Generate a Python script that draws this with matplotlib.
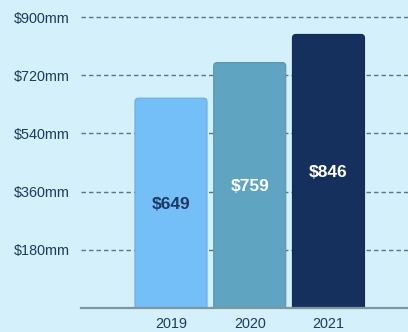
import matplotlib
matplotlib.use("Agg")
import matplotlib.pyplot as plt
from matplotlib.patches import FancyBboxPatch

years = ["2019", "2020", "2021"]
revenue = [649, 759, 846]
y_ticks = [180, 360, 540, 720, 900]
y_tick_labels = ["$180mm", "$360mm", "$540mm", "$720mm", "$900mm"]

bar_colors = ["#74bff8", "#5fa4c0", "#16305e"]
edge_colors = ["#6aaee0", "#5896b0", "#142b55"]
label_colors = ["#1f3863", "#ffffff", "#ffffff"]
bg = "#d3f0fb"
text_color = "#1f3a60"

W, H, DPI = 408, 332, 100
fig = plt.figure(figsize=(W / DPI, H / DPI), dpi=DPI, facecolor=bg)
left, right, bottom, top = 81, 408, 332 - 308, 332 - 17
ax = fig.add_axes([left / W, bottom / H, (right - left) / W, (top - bottom) / H])
ax.set_facecolor(bg)

xlim = (-1.143, 3.01)
ylim = (0, 900)
ax.set_xlim(*xlim)
ax.set_ylim(*ylim)

# data units per pixel on each axis, for round corners of equal pixel radius
x_per_px = (xlim[1] - xlim[0]) / (right - left)
y_per_px = (ylim[1] - ylim[0]) / (top - bottom)
radius_px = 3.5
width = 0.915

for i, (val, fc, ec) in enumerate(zip(revenue, bar_colors, edge_colors)):
    x0 = i - width / 2
    y0 = -radius_px * 2 * y_per_px
    patch = FancyBboxPatch(
        (x0, y0), width, val - y0,
        boxstyle=f"round,pad=0,rounding_size={radius_px * x_per_px}",
        mutation_aspect=y_per_px / x_per_px,
        facecolor=fc, edgecolor=ec, linewidth=0.8, zorder=3,
    )
    ax.add_patch(patch)
    ax.text(i, val / 2 - 4, f"${val}", ha="center", va="center",
            fontsize=12.5, fontweight="bold", color=label_colors[i],
            family="Liberation Sans", zorder=4)

for yv in y_ticks:
    ax.axhline(yv, color="#5c7384", linewidth=1.0, linestyle=(0, (3.2, 2.2)),
               zorder=1, clip_on=False)
ax.axhline(0, color="#7f969f", linewidth=1.6, zorder=5, clip_on=False)

ax.set_xticks(range(len(years)))
ax.set_xticklabels(years)
ax.set_yticks(y_ticks)
ax.set_yticklabels(y_tick_labels)
ax.tick_params(axis="y", length=0, pad=8, labelsize=10.4, labelcolor=text_color)
ax.tick_params(axis="x", length=0, pad=6.5, labelsize=10.4, labelcolor=text_color)
for lbl in ax.get_xticklabels() + ax.get_yticklabels():
    lbl.set_family("Liberation Sans")
for s in ax.spines.values():
    s.set_visible(False)

fig.savefig("out.png", dpi=DPI, facecolor=bg)
